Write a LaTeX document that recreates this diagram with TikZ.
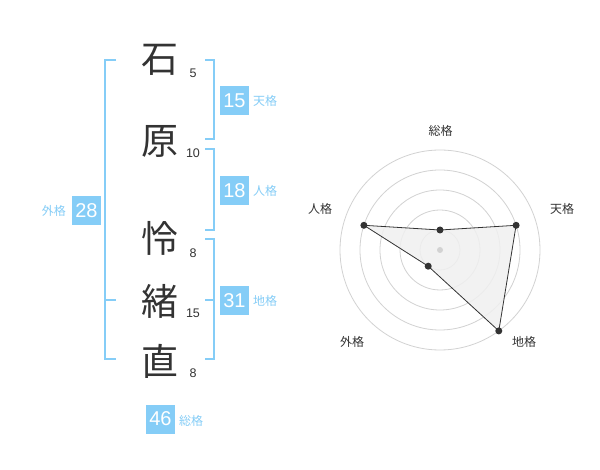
\documentclass[tikz,border=0pt]{standalone}
\usepackage{fontspec}
\setmainfont{Liberation Sans}
\newfontfamily\jp{Noto Sans CJK JP}
\definecolor{kblue}{HTML}{85CDF7}
\definecolor{ktext}{HTML}{333333}
\definecolor{ring}{HTML}{D2D2D2}
\definecolor{rfill}{HTML}{F0F0F0}
\tikzset{
  kanji/.style={text=ktext,font=\jp\fontsize{37}{37}\selectfont,inner sep=0pt,anchor=center},
  stroke/.style={text=ktext,font=\fontsize{12.5}{12.5}\selectfont,inner sep=0pt,anchor=center},
  box/.style={fill=kblue,text=white,minimum width=29pt,minimum height=29pt,inner sep=0pt,font=\fontsize{20}{20}\selectfont},
  klabel/.style={text=kblue,font=\jp\fontsize{12}{12}\selectfont,inner sep=0pt},
  brk/.style={draw=kblue,line width=2pt},
  rlabel/.style={text=ktext,font=\jp\fontsize{12}{12}\selectfont,inner sep=0pt},
  dot/.style={circle,fill=ktext,inner sep=0pt,minimum size=7pt},
}
\begin{document}
\begin{tikzpicture}[x=1pt,y=-1pt]
\fill[white] (0,0) rectangle (600,470);
\useasboundingbox (0,0) rectangle (600,470);
% characters
\node[kanji] (c1) at (160,60) {石};
\node[kanji] (c2) at (160,141) {原};
\node[kanji] (c3) at (160,238) {怜};
\node[kanji] (c4) at (160,301) {緒};
\node[kanji] (c5) at (160,361) {直};
\node[stroke] (n1) at (193,73) {5};
\node[stroke] (n2) at (193,153) {10};
\node[stroke] (n3) at (193,253) {8};
\node[stroke] (n4) at (193,313) {15};
\node[stroke] (n5) at (193,373) {8};
% brackets
\draw[brk] (116,60) -- (105,60) -- (105,359) -- (116,359);
\draw[brk] (105,300) -- (116,300);
\draw[brk] (205,60) -- (214,60) -- (214,139) -- (205,139);
\draw[brk] (205,149) -- (214,149) -- (214,230) -- (205,230);
\draw[brk] (205,239) -- (214,239) -- (214,359) -- (205,359);
\draw[brk] (205,300) -- (214,300);
% boxes
\node[box] (ten) at (234.5,100.5) {15};
\node[klabel,anchor=west] (tenl) at (253,101) {天格};
\node[box] (jin) at (234.5,190.5) {18};
\node[klabel,anchor=west] (jinl) at (253,191) {人格};
\node[box] (chi) at (234.5,300.5) {31};
\node[klabel,anchor=west] (chil) at (253,301) {地格};
\node[box] (gai) at (86.5,210.5) {28};
\node[klabel,anchor=east] (gail) at (66,211) {外格};
\node[box] (sou) at (160.5,419) {46};
\node[klabel,anchor=west] (soul) at (179,421) {総格};
% radar
\coordinate (ctr) at (440,250);
\foreach \r in {20,40,60,80,100} \draw[ring,line width=0.8pt] (ctr) circle[radius=\r];
\coordinate (pS) at (440,230);
\coordinate (pT) at (516.1,225.3);
\coordinate (pC) at (498.8,330.9);
\coordinate (pG) at (428.2,266.2);
\coordinate (pJ) at (363.9,225.3);
\filldraw[fill=rfill,fill opacity=0.85,draw=ktext,line width=0.8pt] (pS) -- (pT) -- (pC) -- (pG) -- (pJ) -- cycle;
\node[circle,fill=ring,inner sep=0pt,minimum size=6pt] (cdot) at (ctr) {};
\foreach \p in {pS,pT,pC,pG,pJ} \node[dot] (d\p) at (\p) {};
\node[rlabel] (lS) at (440.5,130.5) {総格};
\node[rlabel] (lT) at (562,209) {天格};
\node[rlabel] (lC) at (524,342) {地格};
\node[rlabel] (lG) at (352,342) {外格};
\node[rlabel] (lJ) at (320,209) {人格};
\end{tikzpicture}
\end{document}
